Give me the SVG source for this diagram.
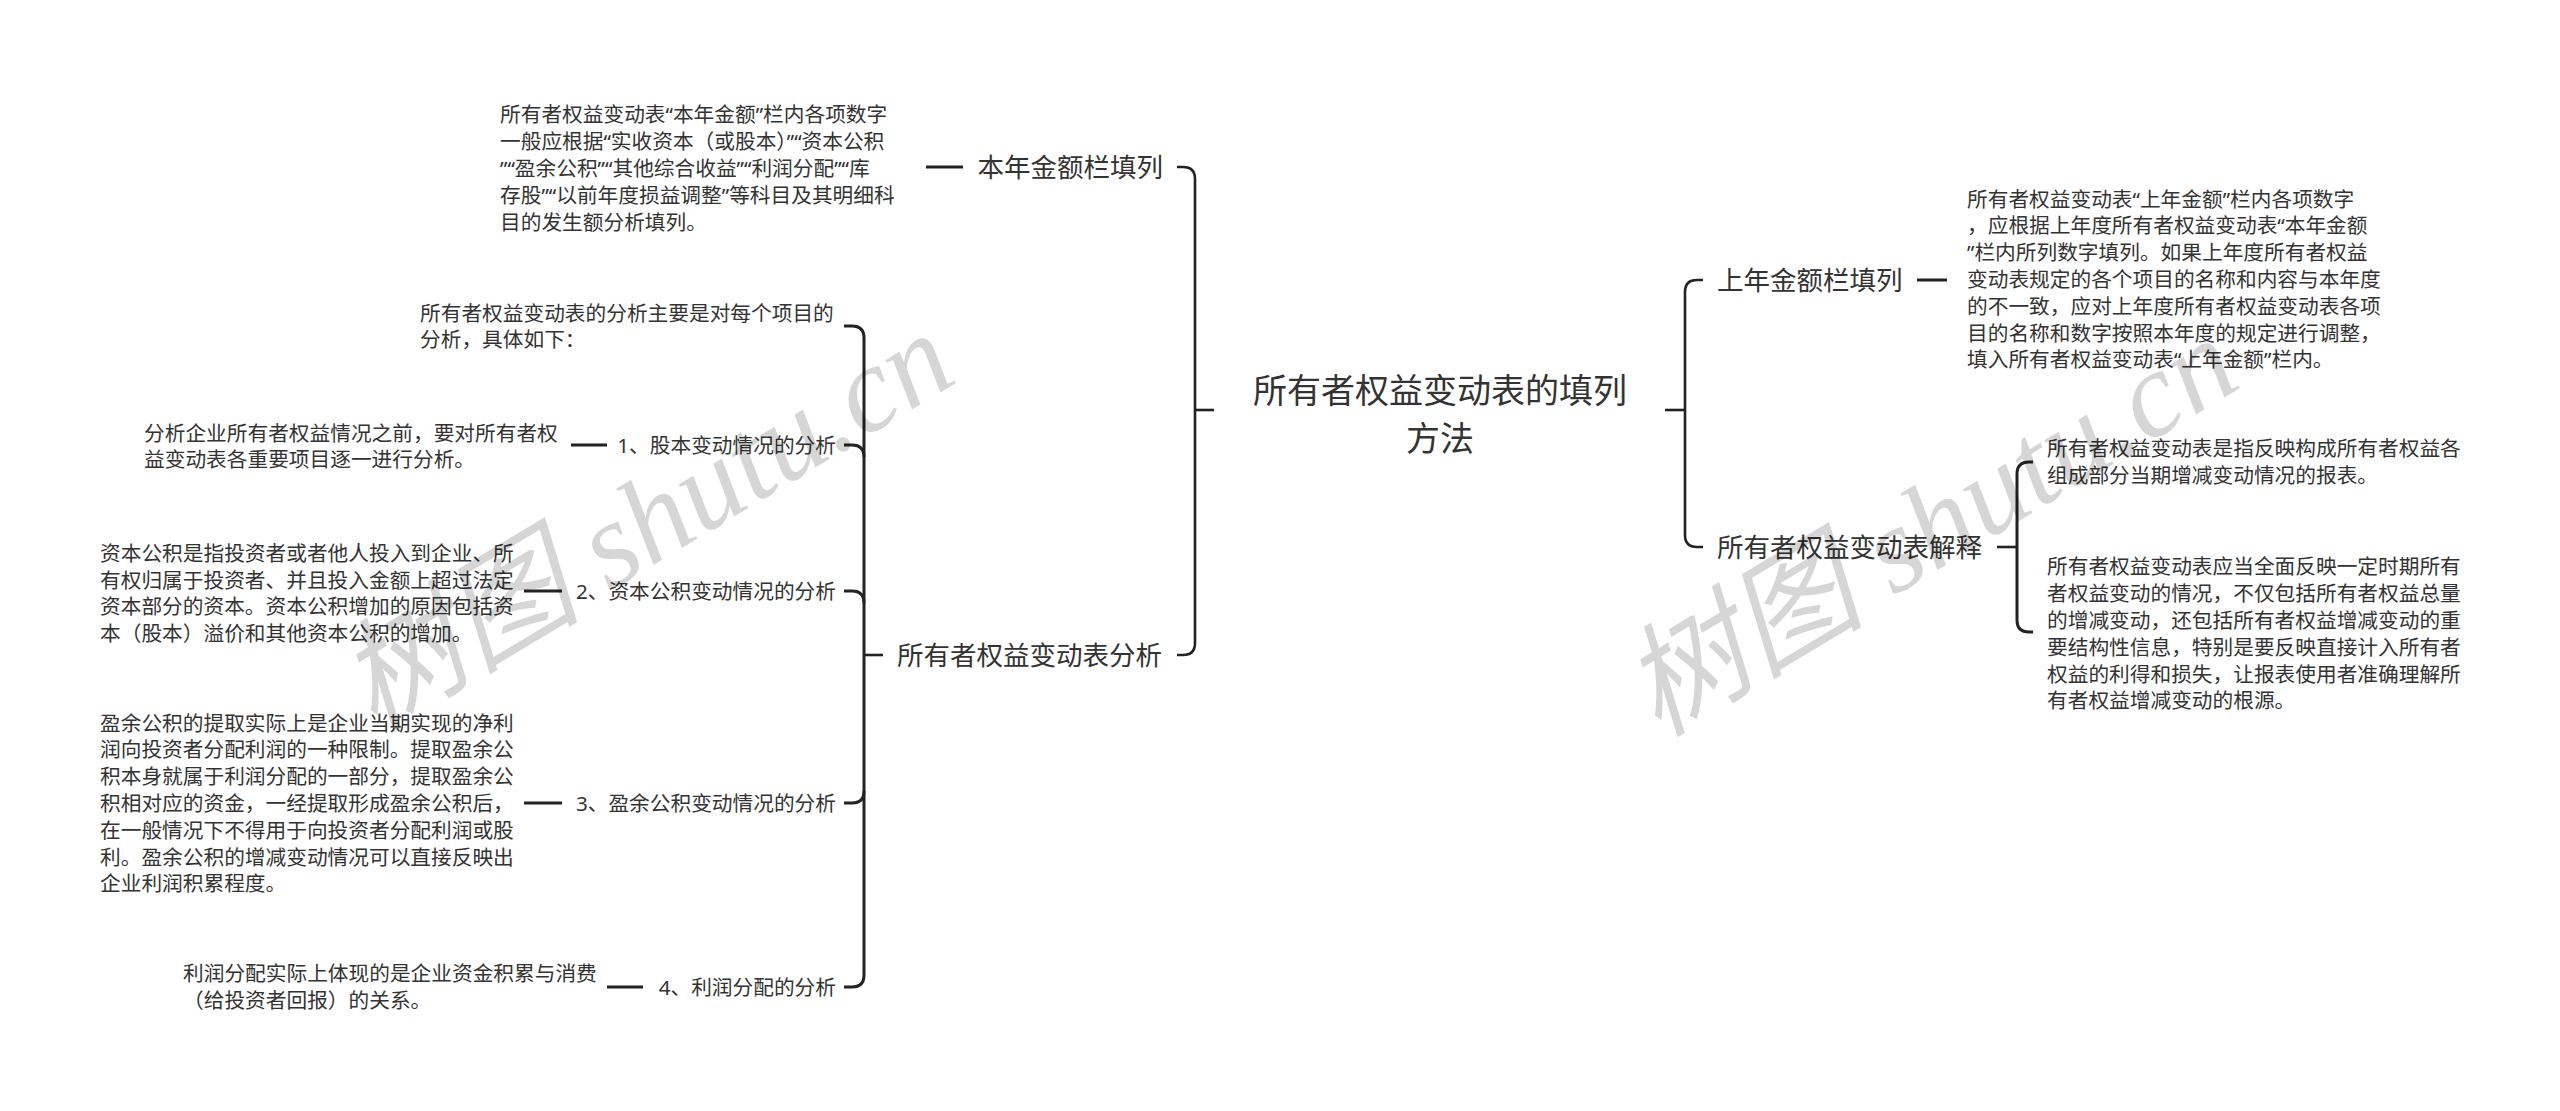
<svg xmlns="http://www.w3.org/2000/svg" width="2560" height="1111" viewBox="0 0 2560 1111">
<style>
text{font-family:"Noto Sans","Noto Sans CJK SC",sans-serif;fill:#333}
.root{font-size:34px}
.l1{font-size:26.5px}
.l2{font-size:20.7px}
.desc{font-size:20.7px}
.wm{font-family:"Liberation Serif","Noto Sans CJK SC",serif;font-style:italic;font-size:122px;fill:#000;fill-opacity:0.16}
.ln{fill:none;stroke:#222;stroke-width:2.6;stroke-linecap:butt;stroke-linejoin:round}
.ln2{fill:none;stroke:#222;stroke-width:3;stroke-linecap:butt;stroke-linejoin:round}
</style>
<rect width="2560" height="1111" fill="#fff"/>
<g id="connectors">
<path class="ln" d="M1177,167 H1183 Q1195,167 1195,179 V643 Q1195,655 1183,655 H1177"/>
<path class="ln" d="M1195,410 H1214"/>
<path class="ln" d="M1665,410 H1685"/>
<path class="ln" d="M1703,280 H1697 Q1685,280 1685,292 V535 Q1685,547 1697,547 H1703"/>
<path class="ln2" d="M926,167 H963"/>
<path class="ln2" d="M1917,280 H1947"/>
<path class="ln" d="M864,655 H883"/>
<path class="ln2" d="M844,326 H852 Q864,326 864,338 V975 Q864,987 852,987 H844"/>
<path class="ln2" d="M844,445 H852 Q864,445 864,457"/>
<path class="ln2" d="M844,591 H852 Q864,591 864,603"/>
<path class="ln2" d="M844,803 H852 Q864,803 864,791"/>
<path class="ln2" d="M571,445 H607"/>
<path class="ln2" d="M524,591 H562"/>
<path class="ln2" d="M524,803 H562"/>
<path class="ln2" d="M607,987 H643"/>
<path class="ln" d="M1997,547 H2017"/>
<path class="ln2" d="M2033,462 H2029 Q2017,462 2017,474 V620 Q2017,632 2029,632 H2033"/>
</g>
<g id="root">
<text class="root" text-anchor="middle"><tspan x="1440" y="403">所有者权益变动表的填列</tspan><tspan x="1440" y="451">方法</tspan></text>
</g>
<g id="node-bennian">
<text class="l1" x="1163" y="177" text-anchor="end">本年金额栏填列</text>
</g>
<g id="node-bennian-desc">
<text class="desc"><tspan x="500" y="122.3">所有者权益变动表“本年金额”栏内各项数字</tspan><tspan x="500" dy="26.8">一般应根据“实收资本（或股本）”“资本公积</tspan><tspan x="500" dy="26.8">”“盈余公积”“其他综合收益”“利润分配”“库</tspan><tspan x="500" dy="26.8">存股”“以前年度损益调整”等科目及其明细科</tspan><tspan x="500" dy="26.8">目的发生额分析填列。</tspan></text>
</g>
<g id="node-fenxi">
<text class="l1" x="1162" y="665" text-anchor="end">所有者权益变动表分析</text>
</g>
<g id="node-fenxi-intro">
<text class="desc"><tspan x="420" y="320.5">所有者权益变动表的分析主要是对每个项目的</tspan><tspan x="420" dy="26.8">分析，具体如下：</tspan></text>
</g>
<g id="node-guben">
<text class="l2" x="836" y="453" text-anchor="end">1、股本变动情况的分析</text>
</g>
<g id="node-guben-desc">
<text class="desc"><tspan x="144" y="440.5">分析企业所有者权益情况之前，要对所有者权</tspan><tspan x="144" dy="26.8">益变动表各重要项目逐一进行分析。</tspan></text>
</g>
<g id="node-zibengongji">
<text class="l2" x="836" y="599" text-anchor="end">2、资本公积变动情况的分析</text>
</g>
<g id="node-zibengongji-desc">
<text class="desc"><tspan x="100" y="560.7">资本公积是指投资者或者他人投入到企业、所</tspan><tspan x="100" dy="26.8">有权归属于投资者、并且投入金额上超过法定</tspan><tspan x="100" dy="26.8">资本部分的资本。资本公积增加的原因包括资</tspan><tspan x="100" dy="26.8">本（股本）溢价和其他资本公积的增加。</tspan></text>
</g>
<g id="node-yingyu">
<text class="l2" x="836" y="811" text-anchor="end">3、盈余公积变动情况的分析</text>
</g>
<g id="node-yingyu-desc">
<text class="desc"><tspan x="100" y="730.5">盈余公积的提取实际上是企业当期实现的净利</tspan><tspan x="100" dy="26.8">润向投资者分配利润的一种限制。提取盈余公</tspan><tspan x="100" dy="26.8">积本身就属于利润分配的一部分，提取盈余公</tspan><tspan x="100" dy="26.8">积相对应的资金，一经提取形成盈余公积后，</tspan><tspan x="100" dy="26.8">在一般情况下不得用于向投资者分配利润或股</tspan><tspan x="100" dy="26.8">利。盈余公积的增减变动情况可以直接反映出</tspan><tspan x="100" dy="26.8">企业利润积累程度。</tspan></text>
</g>
<g id="node-lirun">
<text class="l2" x="836" y="995" text-anchor="end">4、利润分配的分析</text>
</g>
<g id="node-lirun-desc">
<text class="desc"><tspan x="183" y="981">利润分配实际上体现的是企业资金积累与消费</tspan><tspan x="183" dy="26.8">（给投资者回报）的关系。</tspan></text>
</g>
<g id="node-shangnian">
<text class="l1" x="1717" y="290">上年金额栏填列</text>
</g>
<g id="node-shangnian-desc">
<text class="desc"><tspan x="1967" y="206.5">所有者权益变动表“上年金额”栏内各项数字</tspan><tspan x="1967" dy="26.8">，应根据上年度所有者权益变动表“本年金额</tspan><tspan x="1967" dy="26.8">”栏内所列数字填列。如果上年度所有者权益</tspan><tspan x="1967" dy="26.8">变动表规定的各个项目的名称和内容与本年度</tspan><tspan x="1967" dy="26.8">的不一致，应对上年度所有者权益变动表各项</tspan><tspan x="1967" dy="26.8">目的名称和数字按照本年度的规定进行调整，</tspan><tspan x="1967" dy="26.8">填入所有者权益变动表“上年金额”栏内。</tspan></text>
</g>
<g id="node-jieshi">
<text class="l1" x="1717" y="557">所有者权益变动表解释</text>
</g>
<g id="node-jieshi-desc1">
<text class="desc"><tspan x="2047" y="456">所有者权益变动表是指反映构成所有者权益各</tspan><tspan x="2047" dy="26.8">组成部分当期增减变动情况的报表。</tspan></text>
</g>
<g id="node-jieshi-desc2">
<text class="desc"><tspan x="2047" y="574.4">所有者权益变动表应当全面反映一定时期所有</tspan><tspan x="2047" dy="26.8">者权益变动的情况，不仅包括所有者权益总量</tspan><tspan x="2047" dy="26.8">的增减变动，还包括所有者权益增减变动的重</tspan><tspan x="2047" dy="26.8">要结构性信息，特别是要反映直接计入所有者</tspan><tspan x="2047" dy="26.8">权益的利得和损失，让报表使用者准确理解所</tspan><tspan x="2047" dy="26.8">有者权益增减变动的根源。</tspan></text>
</g>
<g id="watermark">
<text class="wm" x="648" y="562" text-anchor="middle" transform="rotate(-31 648 525)">树图 shutu.cn</text>
<text class="wm" x="1932" y="567" text-anchor="middle" transform="rotate(-31 1932 530)">树图 shutu.cn</text>
</g>
</svg>
